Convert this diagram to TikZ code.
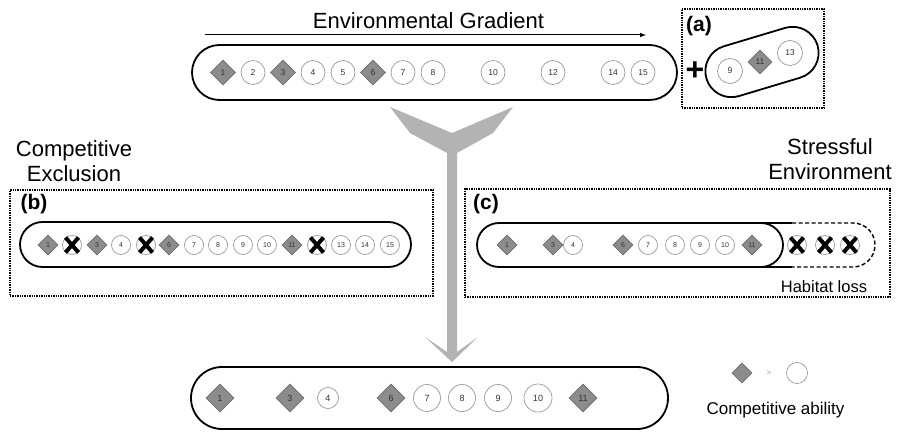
\documentclass[tikz,border=0pt]{standalone}
\usepackage{fontspec}
\setmainfont{Liberation Sans}
\usepackage{tikz}
\usetikzlibrary{shapes.geometric}
\definecolor{diafill}{HTML}{8C8C8C}
\definecolor{diaedge}{HTML}{6E6E6E}
\definecolor{ringcol}{HTML}{9A9A9A}
\definecolor{numcol}{HTML}{333333}
\definecolor{flowgray}{HTML}{B3B3B3}
\tikzset{
  title/.style={font=\fontsize{22}{25}\selectfont, align=center, inner sep=0pt},
  tag/.style={font=\fontsize{21}{21}\selectfont\bfseries, inner sep=0pt},
  gradarrow/.style={->, >=latex, line width=1pt, draw=black},
  capsule/.style={rectangle, draw=black, line width=1.8pt, inner sep=0pt},
  panel/.style={rectangle, draw=black, line width=1.1pt, dash pattern=on 1.4pt off 1pt, inner sep=0pt},
  sp/.style={circle, draw=ringcol, fill=white, line width=0.7pt, minimum size=#1, inner sep=0pt, text=numcol},
  sp/.default=24,
  dom/.style={diamond, draw=diaedge, fill=diafill, line width=0.6pt, minimum size=#1, inner sep=0pt, text=numcol},
  dom/.default=25,
  xmark/.style={draw=black, line width=4pt}
}
% cross over a lost species
\newcommand{\knockout}[1]{%
  \draw[xmark] ([shift={(-6.5pt,-7.5pt)}]#1.center) -- ([shift={(6.5pt,7.5pt)}]#1.center);
  \draw[xmark] ([shift={(-6.5pt,7.5pt)}]#1.center) -- ([shift={(6.5pt,-7.5pt)}]#1.center);}

\begin{document}
\begin{tikzpicture}[x=1pt,y=-1pt]
  \useasboundingbox (0,0) rectangle (898,433);

  % environmental gradient
  \node[title] (grad) at (428.5,21) {Environmental Gradient};
  \coordinate (gradS) at (205,35);
  \coordinate (gradE) at (646,35);
  \draw[gradarrow] (gradS) -- (gradE);

  % regional pool
  \node[capsule, minimum width=485, minimum height=55, rounded corners=27.5] (pool) at (434.5,72.5) {};
  \begin{scope}[every node/.append style={font=\fontsize{8.5}{8.5}\selectfont}]
    \node[dom] (p1) at (223,72.5) {1};
    \node[sp] (p2) at (253,72.5) {2};
    \node[dom] (p3) at (283,72.5) {3};
    \node[sp] (p4) at (313,72.5) {4};
    \node[sp] (p5) at (343,72.5) {5};
    \node[dom] (p6) at (373,72.5) {6};
    \node[sp] (p7) at (403,72.5) {7};
    \node[sp] (p8) at (433,72.5) {8};
    \node[sp] (p10) at (493,72.5) {10};
    \node[sp] (p12) at (553,72.5) {12};
    \node[sp] (p14) at (613,72.5) {14};
    \node[sp] (p15) at (643,72.5) {15};
  \end{scope}

  % (a) immigrants
  \node[panel, minimum width=142, minimum height=99] (boxA) at (753,58.5) {};
  \node[tag] (tagA) at (699,26) {(a)};
  \node[font=\fontsize{32}{32}\selectfont\bfseries, inner sep=0pt] (plus) at (695,71) {+};
  \node[capsule, minimum width=116, minimum height=52, rounded corners=26, rotate=16.7] (immi) at (762,62) {};
  \begin{scope}[every node/.append style={font=\fontsize{8.5}{8.5}\selectfont}]
    \node[sp=25] (a9) at (730,71) {9};
    \node[dom=24] (a11) at (760,62) {11};
    \node[sp=25] (a13) at (790,53) {13};
  \end{scope}

  % flow arrow
  \fill[flowgray] (390,107) -- (452,133) -- (513,107) -- (493,133) -- (457,153) -- (457,352)
    -- (478,337) -- (452,362) -- (425,337) -- (447,352) -- (447,153) -- (410,133) -- cycle;

  % (b) competitive exclusion
  \node[title] (compT) at (74,161.5) {Competitive\\Exclusion};
  \node[panel, minimum width=423, minimum height=106] (boxB) at (221.5,243) {};
  \node[tag] (tagB) at (34,204) {(b)};
  \node[capsule, minimum width=391, minimum height=45, rounded corners=22.5] (exclu) at (215.5,244.5) {};
  \begin{scope}[every node/.append style={font=\fontsize{7}{7}\selectfont}]
    \node[dom=20] (b1) at (48,245) {1};
    \node[sp=19] (b2) at (72,245) {};
    \node[dom=20] (b3) at (97,245) {3};
    \node[sp=19] (b4) at (121,245) {4};
    \node[sp=19] (b5) at (146,245) {};
    \node[dom=20] (b6) at (169,245) {6};
    \node[sp=19] (b7) at (194,245) {7};
    \node[sp=19] (b8) at (218,245) {8};
    \node[sp=19] (b9) at (243,245) {9};
    \node[sp=19] (b10) at (267,245) {10};
    \node[dom=20] (b11) at (292,245) {11};
    \node[sp=19] (b12) at (317,245) {};
    \node[sp=19] (b13) at (341,245) {13};
    \node[sp=19] (b14) at (365,245) {14};
    \node[sp=19] (b15) at (390,245) {15};
  \end{scope}
  \knockout{b2} \knockout{b5} \knockout{b12}

  % (c) stressful environment
  \node[title] (stressT) at (830,159) {Stressful\\Environment};
  \node[panel, minimum width=425, minimum height=108] (boxC) at (677.5,243) {};
  \node[tag] (tagC) at (486,204) {(c)};
  \draw[line width=1.4pt, dash pattern=on 4pt off 2.5pt, rounded corners=22] (792,223) -- (875,223) -- (875,267) -- (792,267);
  \draw[line width=1.8pt] (760,223) -- (792,223) (760,267) -- (792,267);
  \node[capsule, minimum width=306, minimum height=44, rounded corners=22, fill=white] (stress) at (630,245) {};
  \begin{scope}[every node/.append style={font=\fontsize{7}{7}\selectfont}]
    \node[dom=20] (c1) at (507,245) {1};
    \node[dom=20] (c3) at (553,245) {3};
    \node[sp=19] (c4) at (573,245) {4};
    \node[dom=20] (c6) at (623,245) {6};
    \node[sp=19] (c7) at (648,245) {7};
    \node[sp=19] (c8) at (675,245) {8};
    \node[sp=19] (c9) at (700,245) {9};
    \node[sp=19] (c10) at (725,245) {10};
    \node[dom=20] (c11) at (752,245) {11};
    \node[sp=19] (c12) at (797,245) {};
    \node[sp=19] (c13) at (825,245) {};
    \node[sp=19] (c14) at (850,245) {};
  \end{scope}
  \knockout{c12} \knockout{c13} \knockout{c14}
  \node[font=\fontsize{16.5}{16.5}\selectfont, anchor=base, inner sep=0pt] (loss) at (824,292) {Habitat loss};

  % local community
  \node[capsule, minimum width=477, minimum height=62, rounded corners=31] (local) at (429.5,398) {};
  \begin{scope}[every node/.append style={font=\fontsize{9}{9}\selectfont}]
    \node[dom=28] (l1) at (220,398) {1};
    \node[dom=28] (l3) at (290,398) {3};
    \node[sp=21] (l4) at (328,398) {4};
    \node[dom=28] (l6) at (391,398) {6};
    \node[sp=27] (l7) at (427,398) {7};
    \node[sp=27] (l8) at (462,398) {8};
    \node[sp=27] (l9) at (498,398) {9};
    \node[sp=28] (l10) at (538,398) {10};
    \node[dom=28] (l11) at (583,398) {11};
  \end{scope}

  % legend
  \node[dom=20] (keyD) at (742,373) {};
  \node[font=\fontsize{8}{8}\selectfont, text=ringcol, inner sep=0pt] (keyGt) at (769,373) {>};
  \node[sp=21] (keyC) at (797,373) {};
  \node[font=\fontsize{17}{17}\selectfont, anchor=base, inner sep=0pt] (keyT) at (775.5,414) {Competitive ability};
\end{tikzpicture}
\end{document}
